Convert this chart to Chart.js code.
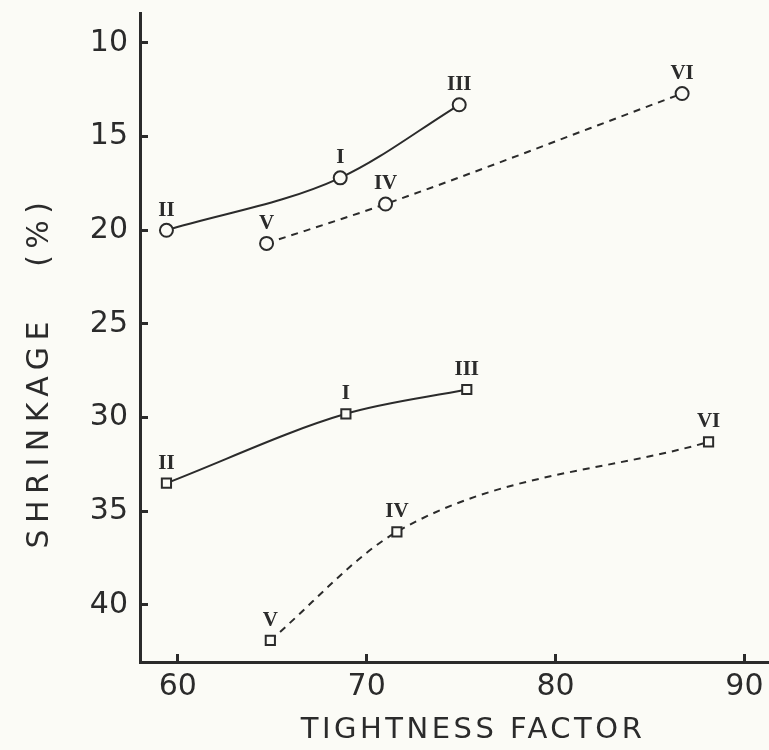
<!DOCTYPE html>
<html>
<head>
    <title>Shrinkage vs Tightness Factor</title>
    <script src="https://cdn.jsdelivr.net/npm/chart.js"></script>
    <style>
        html, body { margin: 0; padding: 0; background: #fbfbf6; }
        #shrinkChart { display: block; }
    </style>
</head>
<body>
    <canvas id="shrinkChart" width="769" height="750"></canvas>

    <script>
        // tightness factor (x) and shrinkage % (y) for each fabric series
        const circleSolidX = [59.4, 68.6, 74.9];
        const circleSolidY = [20.0, 17.2, 13.3];
        const circleDashX = [64.7, 71.0, 86.7];
        const circleDashY = [20.7, 18.6, 12.7];
        const squareSolidX = [59.4, 68.9, 75.3];
        const squareSolidY = [33.5, 29.8, 28.5];
        const squareDashX = [64.9, 71.6, 88.1];
        const squareDashY = [41.9, 36.1, 31.3];

        // sample numbers written next to the points
        const solidLabels = ['II', 'I', 'III'];
        const dashLabels = ['V', 'IV', 'VI'];

        const xTicks = [60, 70, 80, 90];
        const yTicks = [10, 15, 20, 25, 30, 35, 40];

        const ink = '#2b2b2b';
        const paper = '#fbfbf6';

        function toPoints(xs, ys) {
            return xs.map((x, i) => ({ x: x, y: ys[i] }));
        }

        function series(xs, ys, labels, style, dashed) {
            return {
                data: toPoints(xs, ys),
                sampleLabels: labels,
                borderColor: ink,
                borderWidth: 2,
                borderDash: dashed ? [7, 6] : [],
                cubicInterpolationMode: 'monotone',
                pointStyle: style,
                pointRadius: 6.5,
                pointBorderWidth: 2,
                pointBorderColor: ink,
                pointBackgroundColor: paper,
                fill: false
            };
        }

        // roman numerals above every point
        const sampleLabelPlugin = {
            id: 'sampleLabels',
            afterDatasetsDraw(chart) {
                const ctx = chart.ctx;
                ctx.save();
                ctx.fillStyle = ink;
                ctx.font = 'bold 21px "Liberation Serif"';
                ctx.textAlign = 'center';
                ctx.textBaseline = 'middle';
                chart.data.datasets.forEach((ds, i) => {
                    chart.getDatasetMeta(i).data.forEach((pt, j) => {
                        ctx.fillText(ds.sampleLabels[j], pt.x, pt.y - 20);
                    });
                });
                ctx.restore();
            }
        };

        // spaced-out axis titles
        const axisTitlePlugin = {
            id: 'axisTitles',
            afterDraw(chart) {
                const ctx = chart.ctx;
                const area = chart.chartArea;
                ctx.save();
                ctx.fillStyle = ink;
                ctx.textAlign = 'center';
                ctx.textBaseline = 'middle';
                ctx.font = '29px "DejaVu Sans"';
                if ('letterSpacing' in ctx) ctx.letterSpacing = '3.5px';
                ctx.fillText('TIGHTNESS FACTOR', 473, area.bottom + 68);

                ctx.translate(40, 372);
                ctx.rotate(-Math.PI / 2);
                ctx.font = '30px "DejaVu Sans"';
                if ('letterSpacing' in ctx) ctx.letterSpacing = '6.5px';
                ctx.fillText('SHRINKAGE   (%)', 0, 0);
                ctx.restore();
            }
        };

        const paperPlugin = {
            id: 'paper',
            beforeDraw(chart) {
                const ctx = chart.ctx;
                ctx.save();
                ctx.fillStyle = paper;
                ctx.fillRect(0, 0, chart.width, chart.height);
                ctx.restore();
            }
        };

        const tickFont = { family: 'DejaVu Sans', size: 30 };

        new Chart(document.getElementById('shrinkChart'), {
            type: 'line',
            data: {
                datasets: [
                    series(circleSolidX, circleSolidY, solidLabels, 'circle', false),
                    series(circleDashX, circleDashY, dashLabels, 'circle', true),
                    series(squareSolidX, squareSolidY, solidLabels, 'rect', false),
                    series(squareDashX, squareDashY, dashLabels, 'rect', true)
                ]
            },
            options: {
                responsive: false,
                animation: false,
                layout: {
                    autoPadding: false,
                    padding: { top: 13, right: 0, left: 0, bottom: 0 }
                },
                plugins: {
                    legend: { display: false },
                    tooltip: { enabled: false }
                },
                scales: {
                    x: {
                        type: 'linear',
                        min: 58,
                        max: 91.3,
                        afterBuildTicks: (scale) => {
                            scale.ticks = xTicks.map(v => ({ value: v }));
                        },
                        afterFit: (scale) => {
                            scale.height = 88;
                            scale.paddingLeft = 0;
                            scale.paddingRight = 0;
                        },
                        border: { display: true, color: ink, width: 3 },
                        grid: {
                            drawOnChartArea: false,
                            drawTicks: true,
                            tickLength: -8,
                            tickWidth: 3,
                            tickColor: ink
                        },
                        ticks: {
                            color: ink,
                            font: tickFont,
                            padding: 15,
                            maxRotation: 0
                        }
                    },
                    y: {
                        type: 'linear',
                        reverse: true,
                        min: 8.4,
                        max: 43.05,
                        afterBuildTicks: (scale) => {
                            scale.ticks = yTicks.map(v => ({ value: v }));
                        },
                        afterFit: (scale) => {
                            scale.width = 140;
                            scale.paddingTop = 0;
                            scale.paddingBottom = 0;
                        },
                        border: { display: true, color: ink, width: 3 },
                        grid: {
                            drawOnChartArea: false,
                            drawTicks: true,
                            tickLength: -8,
                            tickWidth: 3,
                            tickColor: ink
                        },
                        ticks: {
                            color: ink,
                            font: tickFont,
                            padding: 20
                        }
                    }
                }
            },
            plugins: [paperPlugin, sampleLabelPlugin, axisTitlePlugin]
        });
    </script>
</body>
</html>
